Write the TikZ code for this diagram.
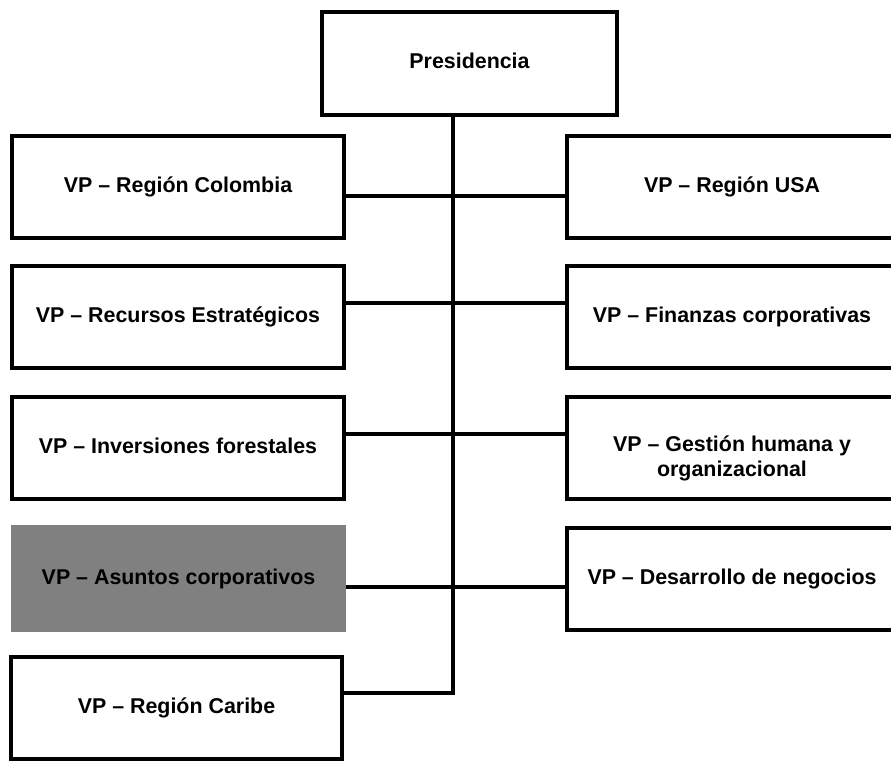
\documentclass[tikz,border=0pt]{standalone}
\usepackage{fontspec}
\setmainfont{Liberation Sans}
\begin{document}
\begin{tikzpicture}[x=1pt,y=-1pt,
  orgbox/.style={rectangle, draw=black, line width=3.2pt, fill=white,
    inner sep=0pt, minimum width=#1, font=\fontsize{21.4}{25}\selectfont\bfseries},
  oneline/.style={text height=16pt, text depth=5pt},
  boxtext/.style={inner sep=0pt, align=center, font=\fontsize{21.4}{25}\selectfont\bfseries},
  conn/.style={draw=black, line width=3.2pt, line join=miter}]
  \useasboundingbox (0,0) rectangle (891,760);
  \clip (0,0) rectangle (891,760);

  % top of the chart
  \node[orgbox=295pt, minimum height=103pt, oneline] (pres) at (469.5,63.5) {Presidencia};

  % left column
  \node[orgbox=332pt, minimum height=102pt, oneline] (colombia) at (178,187) {VP – Región Colombia};
  \node[orgbox=332pt, minimum height=102pt, oneline] (recursos) at (178,317) {VP – Recursos Estratégicos};
  \node[orgbox=332pt, minimum height=102pt, oneline] (inversiones) at (178,448) {VP – Inversiones forestales};
  \node[orgbox=335pt, minimum height=107pt, oneline, draw=none, outer sep=0pt,
        fill={rgb,255:red,128;green,128;blue,128}] (asuntos) at (178.5,578.5) {VP – Asuntos corporativos};
  \node[orgbox=331pt, minimum height=102pt, oneline] (caribe) at (176.5,708) {VP – Región Caribe};

  % right column
  \node[orgbox=330pt, minimum height=102pt, oneline] (usa) at (732,187) {VP – Región USA};
  \node[orgbox=330pt, minimum height=102pt, oneline] (finanzas) at (732,317) {VP – Finanzas corporativas};
  \node[orgbox=330pt, minimum height=102pt] (gestion) at (732,448) {};
  \node[boxtext] (gestiontext) at (732,458.5) {VP – Gestión humana y\\organizacional};
  \node[orgbox=330pt, minimum height=102pt, oneline] (desarrollo) at (732,579) {VP – Desarrollo de negocios};

  % junctions on the vertical trunk
  \coordinate (j1) at (453,196);
  \coordinate (j2) at (453,303);
  \coordinate (j3) at (453,434);
  \coordinate (j4) at (453,587);
  \coordinate (j5) at (453,693);

  % connectors
  \draw[conn] (pres.south -| j5) -- (j5) -- (caribe.east |- j5);
  \draw[conn] (colombia.east |- j1) -- (usa.west |- j1);
  \draw[conn] (recursos.east |- j2) -- (finanzas.west |- j2);
  \draw[conn] (inversiones.east |- j3) -- (gestion.west |- j3);
  \draw[conn] (asuntos.east |- j4) -- (desarrollo.west |- j4);
\end{tikzpicture}
\end{document}
